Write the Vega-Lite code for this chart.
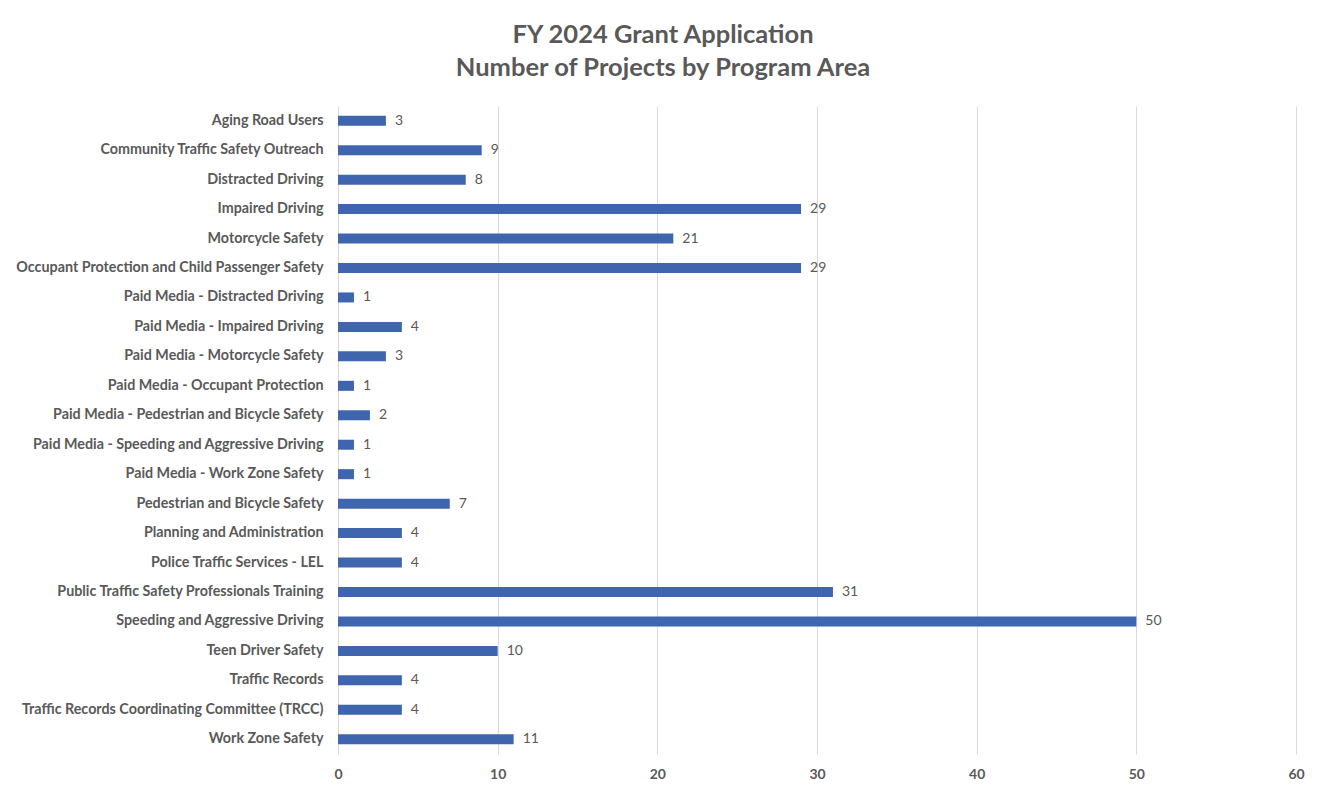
{
  "$schema": "https://vega.github.io/schema/vega-lite/v6.json",
  "width": 958,
  "height": 648,
  "autosize": {"type": "none"},
  "padding": {"left": 338, "top": 106, "right": 26, "bottom": 38},
  "background": "white",
  "title": {
    "text": ["FY 2024 Grant Application", "Number of Projects by Program Area"],
    "anchor": "middle",
    "frame": "group",
    "dx": -154,
    "offset": 25,
    "font": "Lato",
    "fontSize": 25.5,
    "fontWeight": "bold",
    "color": "#595959",
    "lineHeight": 33
  },
  "data": {
    "values": [
      {"area": "Aging Road Users", "count": 3},
      {"area": "Community Traffic Safety Outreach", "count": 9},
      {"area": "Distracted Driving", "count": 8},
      {"area": "Impaired Driving", "count": 29},
      {"area": "Motorcycle Safety", "count": 21},
      {"area": "Occupant Protection and Child Passenger Safety", "count": 29},
      {"area": "Paid Media - Distracted Driving", "count": 1},
      {"area": "Paid Media - Impaired Driving", "count": 4},
      {"area": "Paid Media - Motorcycle Safety", "count": 3},
      {"area": "Paid Media - Occupant Protection", "count": 1},
      {"area": "Paid Media - Pedestrian and Bicycle Safety", "count": 2},
      {"area": "Paid Media - Speeding and Aggressive Driving", "count": 1},
      {"area": "Paid Media - Work Zone Safety", "count": 1},
      {"area": "Pedestrian and Bicycle Safety", "count": 7},
      {"area": "Planning and Administration", "count": 4},
      {"area": "Police Traffic Services - LEL", "count": 4},
      {"area": "Public Traffic Safety Professionals Training", "count": 31},
      {"area": "Speeding and Aggressive Driving", "count": 50},
      {"area": "Teen Driver Safety", "count": 10},
      {"area": "Traffic Records", "count": 4},
      {"area": "Traffic Records Coordinating Committee (TRCC)", "count": 4},
      {"area": "Work Zone Safety", "count": 11}
    ]
  },
  "encoding": {
    "y": {
      "field": "area",
      "type": "nominal",
      "sort": null,
      "scale": {"paddingInner": 0.66, "paddingOuter": 0.33},
      "axis": {
        "title": null,
        "domain": false,
        "ticks": false,
        "labelPadding": 15,
        "labelFont": "Lato",
        "labelFontSize": 14.3,
        "labelFontWeight": "bold",
        "labelColor": "#595959",
        "labelLimit": 400
      }
    },
    "x": {
      "field": "count",
      "type": "quantitative",
      "scale": {"domain": [0, 60], "nice": false},
      "axis": {
        "title": null,
        "values": [0, 10, 20, 30, 40, 50, 60],
        "domain": false,
        "ticks": false,
        "grid": true,
        "gridColor": "#d9d9d9",
        "gridWidth": 1,
        "labelFlush": false,
        "labelPadding": 13,
        "labelFont": "Lato",
        "labelFontSize": 14,
        "labelFontWeight": "bold",
        "labelColor": "#595959"
      }
    }
  },
  "layer": [
    {"mark": {"type": "bar", "color": "#3F65AF"}},
    {
      "mark": {"type": "text", "align": "left", "dx": 9, "font": "Lato", "fontSize": 14, "color": "#595959"},
      "encoding": {"text": {"field": "count", "type": "quantitative"}}
    }
  ],
  "config": {"view": {"stroke": null}}
}
